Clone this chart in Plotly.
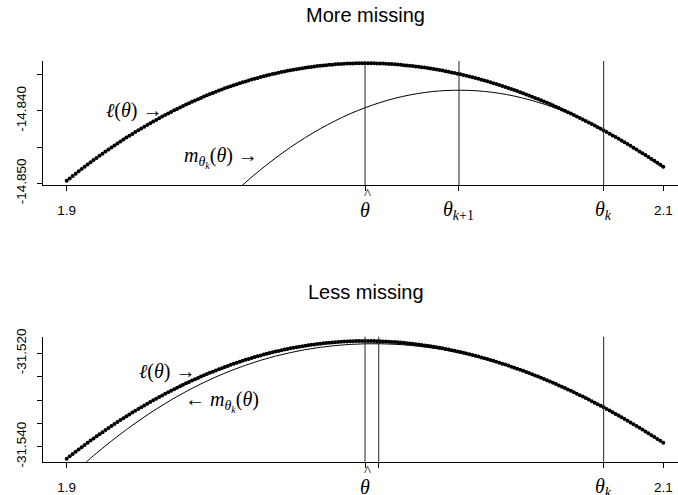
import numpy as np
import plotly.graph_objects as go

# Evaluation grid for the observed-data log-likelihood (dotted curves)
theta = np.round(np.arange(1.900, 2.1005, 0.001), 3)

# l(theta), "More missing" panel
loglik_more = [
    -14.84965, -14.84932, -14.84899, -14.84867, -14.84834, -14.84803, -14.84771, -14.84740, -14.84710, -14.84679,
    -14.84649, -14.84620, -14.84591, -14.84562, -14.84533, -14.84505, -14.84477, -14.84450, -14.84423, -14.84396,
    -14.84369, -14.84343, -14.84318, -14.84292, -14.84267, -14.84243, -14.84218, -14.84194, -14.84171, -14.84147,
    -14.84125, -14.84102, -14.84080, -14.84058, -14.84036, -14.84015, -14.83994, -14.83974, -14.83954, -14.83934,
    -14.83914, -14.83895, -14.83876, -14.83858, -14.83840, -14.83822, -14.83804, -14.83787, -14.83770, -14.83754,
    -14.83738, -14.83722, -14.83707, -14.83691, -14.83677, -14.83662, -14.83648, -14.83634, -14.83621, -14.83608,
    -14.83595, -14.83582, -14.83570, -14.83558, -14.83547, -14.83536, -14.83525, -14.83514, -14.83504, -14.83494,
    -14.83485, -14.83475, -14.83467, -14.83458, -14.83450, -14.83442, -14.83434, -14.83427, -14.83420, -14.83413,
    -14.83407, -14.83401, -14.83395, -14.83390, -14.83384, -14.83380, -14.83375, -14.83371, -14.83367, -14.83364,
    -14.83360, -14.83357, -14.83355, -14.83352, -14.83350, -14.83349, -14.83347, -14.83346, -14.83346, -14.83345,
    -14.83345,
    -14.83345, -14.83346, -14.83346, -14.83347, -14.83349, -14.83350, -14.83352, -14.83355, -14.83357, -14.83360,
    -14.83363, -14.83367, -14.83371, -14.83375, -14.83379, -14.83384, -14.83389, -14.83394, -14.83399, -14.83405,
    -14.83411, -14.83418, -14.83424, -14.83431, -14.83439, -14.83446, -14.83454, -14.83462, -14.83471, -14.83479,
    -14.83488, -14.83498, -14.83507, -14.83517, -14.83527, -14.83538, -14.83549, -14.83560, -14.83571, -14.83582,
    -14.83594, -14.83606, -14.83619, -14.83632, -14.83645, -14.83658, -14.83671, -14.83685, -14.83699, -14.83714,
    -14.83728, -14.83743, -14.83758, -14.83774, -14.83790, -14.83806, -14.83822, -14.83838, -14.83855, -14.83872,
    -14.83890, -14.83907, -14.83925, -14.83943, -14.83962, -14.83981, -14.84000, -14.84019, -14.84038, -14.84058,
    -14.84078, -14.84098, -14.84119, -14.84140, -14.84161, -14.84182, -14.84204, -14.84226, -14.84248, -14.84270,
    -14.84293, -14.84316, -14.84339, -14.84362, -14.84386, -14.84410, -14.84434, -14.84458, -14.84483, -14.84508,
    -14.84533, -14.84559, -14.84584, -14.84610, -14.84636, -14.84663, -14.84689, -14.84716, -14.84744, -14.84771,
]

# l(theta), "Less missing" panel
loglik_less = [
    -31.54256, -31.54206, -31.54156, -31.54107, -31.54058, -31.54010, -31.53963, -31.53916, -31.53869, -31.53823,
    -31.53777, -31.53732, -31.53688, -31.53643, -31.53600, -31.53557, -31.53514, -31.53472, -31.53430, -31.53389,
    -31.53349, -31.53309, -31.53269, -31.53230, -31.53192, -31.53154, -31.53116, -31.53079, -31.53042, -31.53006,
    -31.52971, -31.52936, -31.52901, -31.52867, -31.52834, -31.52801, -31.52768, -31.52736, -31.52705, -31.52674,
    -31.52643, -31.52613, -31.52584, -31.52555, -31.52526, -31.52498, -31.52471, -31.52444, -31.52417, -31.52392,
    -31.52366, -31.52341, -31.52317, -31.52293, -31.52269, -31.52246, -31.52224, -31.52202, -31.52181, -31.52160,
    -31.52139, -31.52119, -31.52100, -31.52081, -31.52063, -31.52045, -31.52027, -31.52010, -31.51994, -31.51978,
    -31.51963, -31.51948, -31.51934, -31.51920, -31.51906, -31.51894, -31.51881, -31.51869, -31.51858, -31.51847,
    -31.51837, -31.51827, -31.51818, -31.51809, -31.51801, -31.51793, -31.51785, -31.51779, -31.51772, -31.51767,
    -31.51761, -31.51756, -31.51752, -31.51748, -31.51745, -31.51742, -31.51740, -31.51738, -31.51737, -31.51736,
    -31.51736,
    -31.51736, -31.51737, -31.51738, -31.51740, -31.51742, -31.51745, -31.51748, -31.51751, -31.51755, -31.51760,
    -31.51765, -31.51770, -31.51776, -31.51782, -31.51789, -31.51796, -31.51804, -31.51812, -31.51821, -31.51830,
    -31.51839, -31.51849, -31.51860, -31.51871, -31.51882, -31.51894, -31.51906, -31.51918, -31.51932, -31.51945,
    -31.51959, -31.51974, -31.51988, -31.52004, -31.52019, -31.52036, -31.52052, -31.52069, -31.52087, -31.52104,
    -31.52123, -31.52142, -31.52161, -31.52180, -31.52200, -31.52221, -31.52242, -31.52263, -31.52285, -31.52307,
    -31.52329, -31.52352, -31.52375, -31.52399, -31.52423, -31.52448, -31.52473, -31.52498, -31.52524, -31.52550,
    -31.52577, -31.52604, -31.52631, -31.52659, -31.52687, -31.52716, -31.52745, -31.52774, -31.52804, -31.52834,
    -31.52865, -31.52896, -31.52927, -31.52959, -31.52991, -31.53024, -31.53056, -31.53090, -31.53123, -31.53157,
    -31.53192, -31.53227, -31.53262, -31.53297, -31.53333, -31.53370, -31.53406, -31.53443, -31.53481, -31.53518,
    -31.53557, -31.53595, -31.53634, -31.53673, -31.53713, -31.53753, -31.53793, -31.53834, -31.53875, -31.53916,
]

# Minorizing surrogate m_{theta_k}(theta), sampled on a coarser grid
theta_m_more = np.round(np.arange(1.955, 2.1005, 0.005), 3)
surrogate_more = [
    -14.85172, -14.84985, -14.84811, -14.84651, -14.84503, -14.84368, -14.84247, -14.84138, -14.84041, -14.83958,
    -14.83887, -14.83828, -14.83782, -14.83748, -14.83726, -14.83717, -14.83719, -14.83733, -14.83759, -14.83797,
    -14.83847, -14.83908, -14.83981, -14.84065, -14.84161, -14.84267, -14.84385, -14.84512, -14.84648, -14.84790,
]
theta_m_less = np.round(np.arange(1.905, 2.1005, 0.005), 3)
surrogate_less = [
    -31.54414, -31.54137, -31.53877, -31.53633, -31.53406, -31.53194, -31.52998, -31.52818, -31.52654, -31.52505,
    -31.52372, -31.52254, -31.52150, -31.52060, -31.51984, -31.51921, -31.51871, -31.51834, -31.51809, -31.51796,
    -31.51795, -31.51806, -31.51828, -31.51863, -31.51909, -31.51967, -31.52037, -31.52118, -31.52211, -31.52315,
    -31.52428, -31.52553, -31.52689, -31.52835, -31.52991, -31.53157, -31.53333, -31.53519, -31.53715, -31.53920,
]

# Marked parameter values
theta_hat = 2.0
theta_k = 2.08
theta_next_more = 2.0315
theta_next_less = 2.0046

# Axis ticks
x_ticks_num = [1.9, 2.1]
x_ticks_num_text = ["1.9", "2.1"]
y_ticks_more = [-14.850, -14.845, -14.840, -14.835]
y_ticks_more_text = ["-14.850", "", "-14.840", ""]
y_ticks_less = [-31.540, -31.535, -31.530, -31.525, -31.520]
y_ticks_less_text = ["-31.540", "", "", "", "-31.520"]

titles = ["More missing", "Less missing"]

W, H = 678, 495
SANS = "Liberation Sans, Arial, sans-serif"
SERIF = "Liberation Serif, DejaVu Serif, serif"

fig = go.Figure()

# surrogate curves (drawn first so the dots sit on top)
fig.add_trace(go.Scatter(x=theta_m_more, y=surrogate_more, mode="lines",
                         line=dict(color="black", width=1, shape="spline", smoothing=1.0),
                         xaxis="x", yaxis="y", hoverinfo="skip"))
fig.add_trace(go.Scatter(x=theta_m_less, y=surrogate_less, mode="lines",
                         line=dict(color="black", width=1, shape="spline", smoothing=1.0),
                         xaxis="x2", yaxis="y2", hoverinfo="skip"))
# log-likelihood dots
fig.add_trace(go.Scatter(x=theta, y=loglik_more, mode="markers",
                         marker=dict(color="black", size=4.0, line=dict(width=0)),
                         xaxis="x", yaxis="y", hoverinfo="skip"))
fig.add_trace(go.Scatter(x=theta, y=loglik_less, mode="markers",
                         marker=dict(color="black", size=4.0, line=dict(width=0)),
                         xaxis="x2", yaxis="y2", hoverinfo="skip"))

x_dom = [43 / W, 1.0]
x_rng = [1.89205, 2.10492]

def xaxis_cfg(extra_ticks):
    vals = x_ticks_num + extra_ticks
    text = x_ticks_num_text + [""] * len(extra_ticks)
    return dict(domain=x_dom, range=x_rng, showgrid=False, zeroline=False,
                showline=True, linecolor="black", linewidth=1, automargin=False,
                ticks="outside", ticklen=5, tickwidth=1, tickcolor="black",
                tickvals=vals, ticktext=text, ticklabelstandoff=8,
                tickfont=dict(family=SANS, size=13.5, color="black"))

def yaxis_cfg(dom, rng, vals, text):
    return dict(domain=dom, range=rng, showgrid=False, zeroline=False,
                showline=True, linecolor="black", linewidth=1, automargin=False,
                ticks="outside", ticklen=5, tickwidth=1, tickcolor="black",
                tickvals=vals, ticktext=text, tickangle=-90, ticklabelstandoff=6,
                tickfont=dict(family=SANS, size=13.5, color="black"))

fig.update_layout(
    width=W, height=H, autosize=False,
    margin=dict(l=0, r=0, t=0, b=0, pad=0, autoexpand=False),
    paper_bgcolor="white", plot_bgcolor="white", showlegend=False,
    xaxis=xaxis_cfg([theta_hat, theta_next_more, theta_k]) | dict(anchor="y"),
    yaxis=yaxis_cfg([1 - 185 / H, 1 - 61 / H], [-14.85022, -14.83314],
                    y_ticks_more, y_ticks_more_text) | dict(anchor="x"),
    xaxis2=xaxis_cfg([theta_hat, theta_next_less, theta_k]) | dict(anchor="y2"),
    yaxis2=yaxis_cfg([1 - 461.7 / H, 1 - 336.7 / H], [-31.54321, -31.51644],
                     y_ticks_less, y_ticks_less_text) | dict(anchor="x2"),
)

# vertical reference lines
for xr, yr, vals in [("x", "y", [theta_hat, theta_next_more, theta_k]),
                     ("x2", "y2", [theta_hat, theta_next_less, theta_k])]:
    for v in vals:
        fig.add_shape(type="line", xref=xr, yref=f"{yr} domain", x0=v, x1=v, y0=0, y1=1,
                      line=dict(color="#222", width=1))

ann = []
# panel titles
for t, ypx in zip(titles, [15.5, 292.0]):
    ann.append(dict(text=t, xref="paper", yref="paper", x=365.5 / W, y=1 - ypx / H,
                    xanchor="center", yanchor="middle", showarrow=False,
                    font=dict(family=SANS, size=20, color="black")))

# theta labels under the axes
th_font = dict(family=SERIF, size=20, color="black")
for xr, ypx, items in [
    ("x", 210, [(theta_hat, "<i>θ</i>"), (theta_next_more, "<i>θ</i><sub><i>k</i>+1</sub>"),
                (theta_k, "<i>θ</i><sub><i>k</i></sub>")]),
    ("x2", 487, [(theta_hat, "<i>θ</i>"), (theta_k, "<i>θ</i><sub><i>k</i></sub>")]),
]:
    for v, txt in items:
        ann.append(dict(text=txt, xref=xr, yref="paper", x=v, y=1 - ypx / H,
                        xanchor="center", yanchor="middle", showarrow=False, font=th_font))
    # hat over the estimate
    ann.append(dict(text="^", xref=xr, yref="paper", x=theta_hat, y=1 - ypx / H,
                    xanchor="center", yanchor="middle", xshift=2, yshift=16,
                    showarrow=False, font=dict(family=SERIF, size=15, color="black")))

# curve labels
lab_font = dict(family=SERIF, size=20, color="black")
ell = "<i>ℓ</i>(<i>θ</i>)"
m_lab = "<i>m</i><sub><i>θ</i><sub><i>k</i></sub></sub>(<i>θ</i>)"
ann += [
    dict(text=ell + " →", xref="x", yref="y", x=1.9330, y=-14.83996,
         xanchor="right", yanchor="middle", showarrow=False, font=lab_font),
    dict(text=m_lab + " →", xref="x", yref="y", x=1.9648, y=-14.8464,
         xanchor="right", yanchor="middle", showarrow=False, font=lab_font),
    dict(text=ell + " →", xref="x2", yref="y2", x=1.9441, y=-31.52379,
         xanchor="right", yanchor="middle", showarrow=False, font=lab_font),
    dict(text="← " + m_lab, xref="x2", yref="y2", x=1.9389, y=-31.53022,
         xanchor="left", yanchor="middle", showarrow=False, font=lab_font),
]
fig.update_layout(annotations=ann)

fig.write_html("out.html")
